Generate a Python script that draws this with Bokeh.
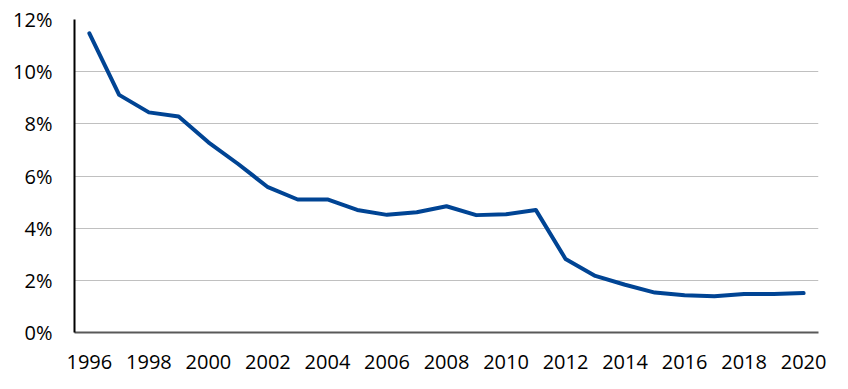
from bokeh.plotting import figure
from bokeh.models import ColumnDataSource, FixedTicker, Range1d
from bokeh.embed import file_html
from bokeh.resources import INLINE

years = list(range(1996, 2021))
rates = [11.47, 9.11, 8.44, 8.28, 7.29, 6.46, 5.57, 5.10, 5.10, 4.70, 4.51, 4.61,
         4.84, 4.50, 4.53, 4.70, 2.82, 2.17, 1.83, 1.53, 1.43, 1.39, 1.48, 1.48, 1.51]

x_ticks = list(range(1996, 2021, 2))
x_labels = [str(y) for y in x_ticks]
y_ticks = [0, 2, 4, 6, 8, 10, 12]
y_labels = ["0%", "2%", "4%", "6%", "8%", "10%", "12%"]

src = ColumnDataSource(dict(x=years, y=rates))

p = figure(width=840, height=378, output_backend="svg", toolbar_location=None,
           x_range=Range1d(1995.5, 2020.5), y_range=Range1d(0, 12),
           min_border_left=74, min_border_right=22, min_border_top=19, min_border_bottom=46)
p.outline_line_color = None
p.background_fill_color = "white"

p.line("x", "y", source=src, line_color="#004494", line_width=4, line_join="round", line_cap="round")

font = "Open Sans"
p.xaxis.ticker = FixedTicker(ticks=x_ticks)
p.xaxis.major_label_overrides = dict(zip(x_ticks, x_labels))
p.yaxis.ticker = FixedTicker(ticks=y_ticks)
p.yaxis.major_label_overrides = dict(zip(y_ticks, y_labels))

for ax in (p.xaxis, p.yaxis):
    ax.major_tick_line_color = None
    ax.minor_tick_line_color = None
    ax.major_label_text_font = font
    ax.major_label_text_font_size = "20px"
    ax.major_label_text_color = "#000000"

p.yaxis.axis_line_color = "#000000"
p.yaxis.axis_line_width = 2
p.yaxis.major_label_standoff = 16
p.xaxis.axis_line_color = "#595959"
p.xaxis.axis_line_width = 2
p.xaxis.major_label_standoff = 16

p.xgrid.grid_line_color = None
p.ygrid.grid_line_color = "#C0C0C0"
p.ygrid.grid_line_width = 1

open("out.html", "w").write(file_html(p, INLINE))
